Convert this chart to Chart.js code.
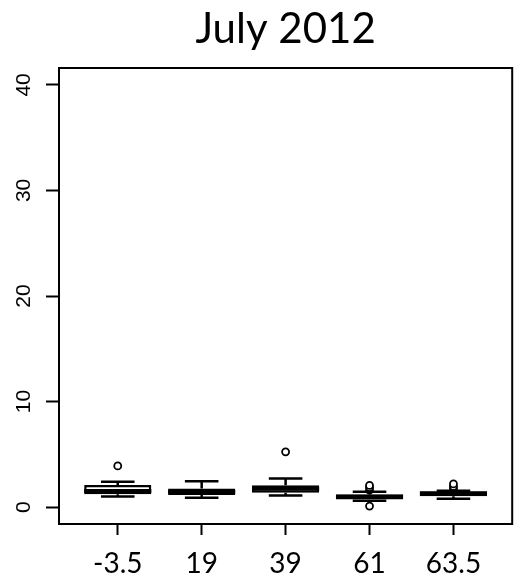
<!DOCTYPE html>
<html>
<head>
<meta charset="utf-8">
<title>July 2012</title>
<script src="https://cdn.jsdelivr.net/npm/chart.js@4/dist/chart.umd.min.js"></script>
<style>
  html, body { margin: 0; padding: 0; background: #fff; }
  canvas { display: block; }
</style>
</head>
<body>
<canvas id="myChart" width="518" height="583"></canvas>
<script>
'use strict';

// box plot summary per group
const labels = ['-3.5', '19', '39', '61', '63.5'];
const whiskerLow = [1.0, 0.88, 1.1, 0.6, 0.8];
const q1 = [1.23, 1.14, 1.36, 0.73, 1.04];
const median = [1.52, 1.45, 1.75, 1.0, 1.3];
const q3 = [2.1, 1.77, 2.08, 1.2, 1.5];
const whiskerHigh = [2.4, 2.46, 2.72, 1.45, 1.55];
const outliers = [[3.9], [], [5.24], [0.1, 1.6, 1.85, 2.05], [1.75, 1.95, 2.2]];
const yTicks = [0, 10, 20, 30, 40];

const boxData = labels.map((l, i) => ({ x: i + 1, y: [q1[i], q3[i]] }));
const outlierData = [];
outliers.forEach((list, i) => list.forEach(v => outlierData.push({ x: i + 1, y: v })));

// whiskers, staples and the median line, placed with the chart's scales
const boxExtras = {
  id: 'boxExtras',
  afterDatasetsDraw(chart) {
    const ctx = chart.ctx;
    const xs = chart.scales.x;
    const ys = chart.scales.y;
    const bars = chart.getDatasetMeta(0).data;
    ctx.save();
    ctx.strokeStyle = '#000';
    labels.forEach((l, i) => {
      const x = xs.getPixelForValue(i + 1);
      const w = bars[i].width;
      const cap = w / 4;
      ctx.lineWidth = 2.5;
      ctx.beginPath();
      ctx.moveTo(x, ys.getPixelForValue(q3[i]));
      ctx.lineTo(x, ys.getPixelForValue(whiskerHigh[i]));
      ctx.moveTo(x, ys.getPixelForValue(q1[i]));
      ctx.lineTo(x, ys.getPixelForValue(whiskerLow[i]));
      ctx.moveTo(x - cap, ys.getPixelForValue(whiskerHigh[i]));
      ctx.lineTo(x + cap, ys.getPixelForValue(whiskerHigh[i]));
      ctx.moveTo(x - cap, ys.getPixelForValue(whiskerLow[i]));
      ctx.lineTo(x + cap, ys.getPixelForValue(whiskerLow[i]));
      ctx.stroke();
      ctx.lineWidth = 4;
      ctx.beginPath();
      ctx.moveTo(x - w / 2, ys.getPixelForValue(median[i]));
      ctx.lineTo(x + w / 2, ys.getPixelForValue(median[i]));
      ctx.stroke();
    });
    ctx.restore();
  },
  afterDraw(chart) {
    const a = chart.chartArea;
    const ctx = chart.ctx;
    ctx.save();
    ctx.strokeStyle = '#000';
    ctx.lineWidth = 2;
    ctx.strokeRect(a.left, a.top, a.right - a.left, a.bottom - a.top);
    ctx.restore();
  }
};

const ctx = document.getElementById('myChart');
const myChart = new Chart(ctx, {
  type: 'bar',
  data: {
    datasets: [{
      type: 'bar',
      data: boxData,
      backgroundColor: '#fff',
      borderColor: '#000',
      borderWidth: 2.5,
      borderSkipped: false,
      barPercentage: 0.8,
      categoryPercentage: 1,
      order: 2
    }, {
      type: 'scatter',
      data: outlierData,
      pointStyle: 'circle',
      pointRadius: 3.5,
      pointBorderWidth: 1.8,
      pointBackgroundColor: '#fff',
      pointBorderColor: '#000',
      order: 1
    }]
  },
  plugins: [boxExtras],
  options: {
    responsive: false,
    animation: false,
    layout: { padding: { left: 0, right: 2, top: 0, bottom: 0 } },
    plugins: {
      legend: { display: false },
      tooltip: { enabled: false },
      title: {
        display: true,
        fullSize: false,
        text: 'July 2012',
        color: '#000',
        font: { family: 'Lato', size: 42, weight: 'normal' },
        padding: { top: 4, bottom: 13.6 }
      }
    },
    scales: {
      x: {
        type: 'linear',
        min: 0.3,
        max: 5.7,
        offset: false,
        afterBuildTicks: s => { s.ticks = labels.map((l, i) => ({ value: i + 1 })); },
        afterFit: s => { s.height = 59; },
        grid: { offset: false, drawOnChartArea: false, tickLength: 11, tickWidth: 2, tickColor: '#000' },
        border: { display: true, color: '#000', width: 2 },
        ticks: {
          color: '#000',
          padding: 12,
          maxRotation: 0,
          font: { family: 'Lato', size: 28 },
          callback: v => labels[Math.round(v) - 1]
        }
      },
      y: {
        min: -1.6,
        max: 41.6,
        afterBuildTicks: s => { s.ticks = yTicks.map(v => ({ value: v })); },
        afterFit: s => { s.width = 59; },
        grid: { drawOnChartArea: false, tickLength: 13, tickWidth: 2, tickColor: '#000' },
        border: { display: true, color: '#000', width: 2 },
        ticks: {
          color: '#000',
          padding: 10,
          minRotation: 90,
          maxRotation: 90,
          crossAlign: 'center',
          font: { family: 'Liberation Sans', size: 21 }
        }
      }
    }
  }
});
</script>
</body>
</html>
